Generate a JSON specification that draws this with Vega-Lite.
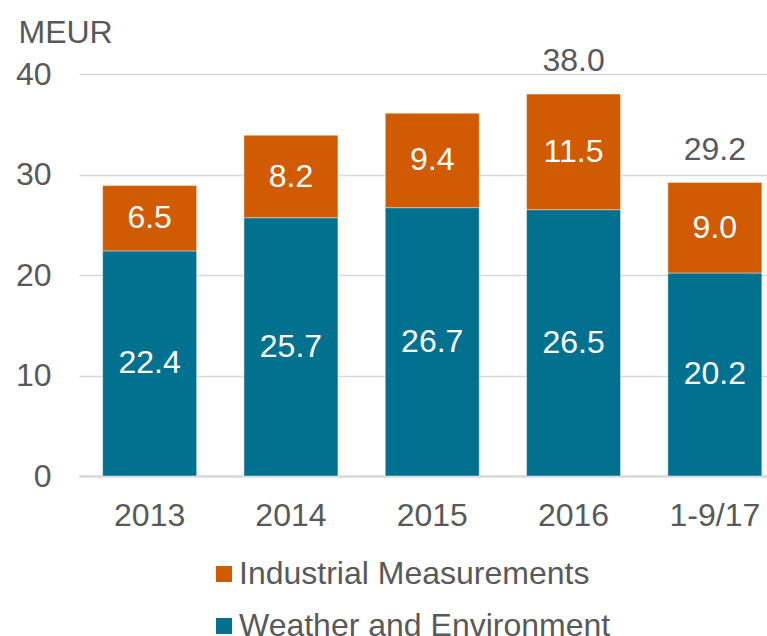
{
  "$schema": "https://vega.github.io/schema/vega-lite/v6.json",
  "width": 688,
  "height": 402,
  "autosize": {"type": "none"},
  "padding": {"left": 79, "top": 74, "right": 0, "bottom": 160},
  "background": "white",
  "config": {
    "font": "Liberation Sans",
    "view": {"stroke": null},
    "text": {"font": "Liberation Sans"}
  },
  "datasets": {
    "segments": [
      {"period": "2013", "segment": "Weather and Environment", "value": 22.4, "ord": 1},
      {"period": "2013", "segment": "Industrial Measurements", "value": 6.5, "ord": 2},
      {"period": "2014", "segment": "Weather and Environment", "value": 25.7, "ord": 1},
      {"period": "2014", "segment": "Industrial Measurements", "value": 8.2, "ord": 2},
      {"period": "2015", "segment": "Weather and Environment", "value": 26.7, "ord": 1},
      {"period": "2015", "segment": "Industrial Measurements", "value": 9.4, "ord": 2},
      {"period": "2016", "segment": "Weather and Environment", "value": 26.5, "ord": 1},
      {"period": "2016", "segment": "Industrial Measurements", "value": 11.5, "ord": 2},
      {"period": "1-9/17", "segment": "Weather and Environment", "value": 20.2, "ord": 1},
      {"period": "1-9/17", "segment": "Industrial Measurements", "value": 9.0, "ord": 2}
    ],
    "totals": [
      {"period": "2016", "total": 38.0},
      {"period": "1-9/17", "total": 29.2}
    ]
  },
  "layer": [
    {
      "data": {"name": "segments"},
      "mark": {"type": "bar", "stroke": "#ffffff", "strokeWidth": 0.6, "strokeOpacity": 0.7},
      "encoding": {
        "x": {
          "field": "period", "type": "nominal", "sort": null,
          "scale": {"range": [0, 706.5], "paddingInner": 0.335, "paddingOuter": 0.1675},
          "axis": {
            "title": null, "labelFontSize": 32, "labelColor": "#595959", "labelPadding": 24,
            "ticks": false, "domainColor": "#D9D9D9", "domainWidth": 2.5, "labelAngle": 0
          }
        },
        "y": {
          "field": "value", "type": "quantitative", "stack": "zero",
          "scale": {"domain": [0, 40], "nice": false},
          "axis": {
            "values": [0, 10, 20, 30, 40], "domain": false, "ticks": false,
            "gridColor": "#D9D9D9", "gridWidth": 1.5,
            "labelFontSize": 32, "labelColor": "#595959", "labelPadding": 28,
            "title": "MEUR", "titleAngle": 0, "titleFontSize": 32, "titleFontWeight": "normal",
            "titleColor": "#595959", "titleAlign": "left", "titleBaseline": "alphabetic",
            "titleX": -61, "titleY": -32
          }
        },
        "color": {
          "field": "segment", "type": "nominal",
          "scale": {"domain": ["Industrial Measurements", "Weather and Environment"], "range": ["#D15B02", "#02718F"]},
          "legend": {
            "title": null, "orient": "none", "legendX": 129, "legendY": 484,
            "symbolType": "square", "symbolSize": 256, "symbolStrokeWidth": 0,
            "labelFontSize": 32, "labelColor": "#595959", "labelOffset": -1, "labelLimit": 0,
            "rowPadding": 20, "padding": 0, "direction": "vertical"
          }
        },
        "order": {"field": "ord", "type": "quantitative"}
      }
    },
    {
      "data": {"name": "segments"},
      "transform": [
        {"stack": "value", "groupby": ["period"], "sort": [{"field": "ord"}], "as": ["v0", "v1"]},
        {"calculate": "(datum.v0 + datum.v1) / 2", "as": "mid"}
      ],
      "mark": {"type": "text", "fontSize": 32, "color": "white", "baseline": "middle", "align": "center"},
      "encoding": {
        "x": {"field": "period", "type": "nominal", "sort": null},
        "y": {"field": "mid", "type": "quantitative"},
        "text": {"field": "value", "type": "quantitative", "format": ".1f"}
      }
    },
    {
      "data": {"name": "totals"},
      "mark": {"type": "text", "fontSize": 32, "color": "#595959", "baseline": "alphabetic", "align": "center", "dy": -23},
      "encoding": {
        "x": {"field": "period", "type": "nominal", "sort": null},
        "y": {"field": "total", "type": "quantitative"},
        "text": {"field": "total", "type": "quantitative", "format": ".1f"}
      }
    }
  ]
}
